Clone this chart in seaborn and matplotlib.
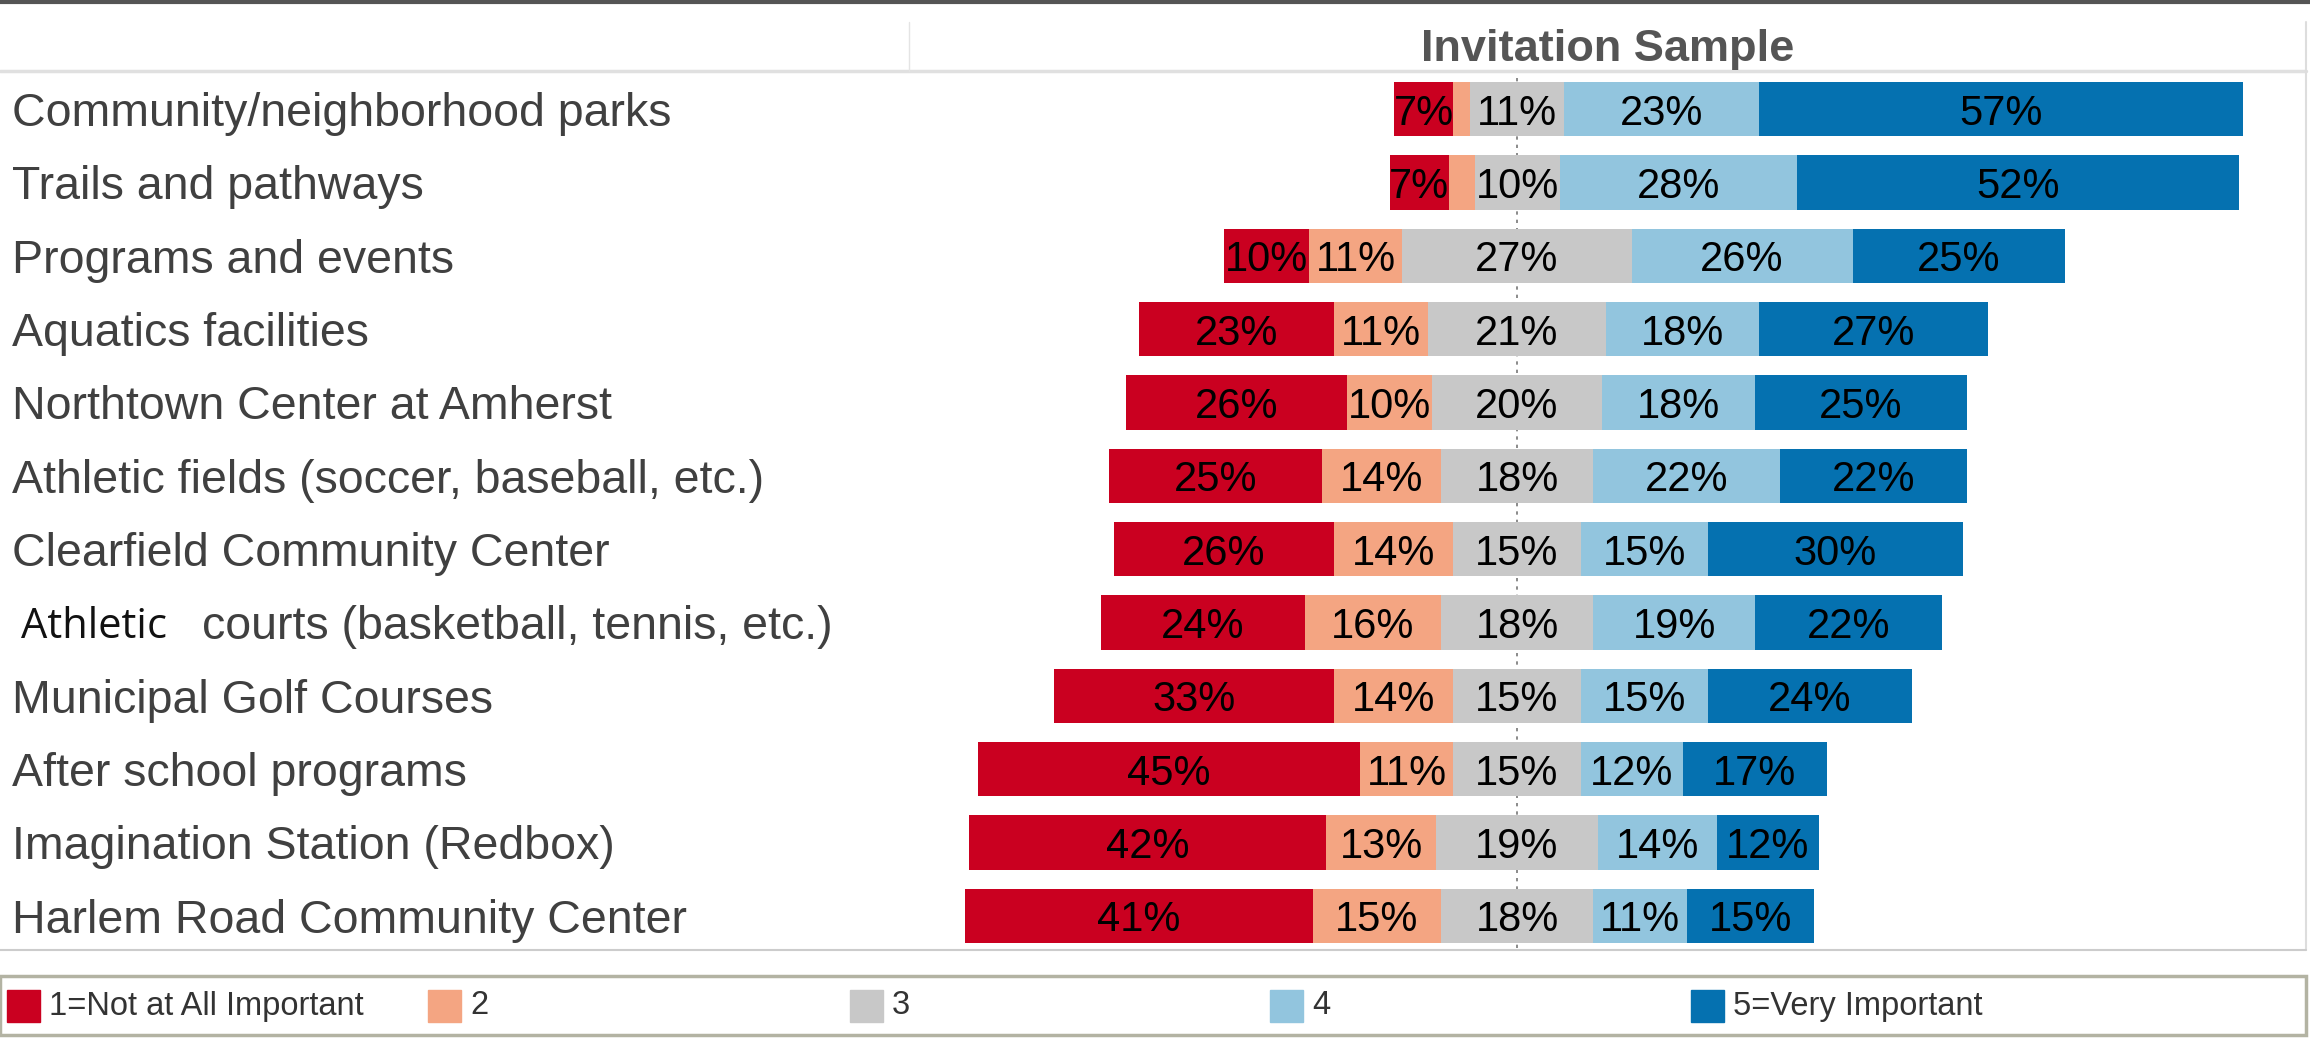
import matplotlib
matplotlib.use("Agg")
import matplotlib.pyplot as plt
import seaborn as sns
import pandas as pd
from matplotlib.lines import Line2D
from matplotlib.patches import Rectangle
from matplotlib.transforms import blended_transform_factory

# ---- data ----
categories = [
    "Community/neighborhood parks",
    "Trails and pathways",
    "Programs and events",
    "Aquatics facilities",
    "Northtown Center at Amherst",
    "Athletic fields (soccer, baseball, etc.)",
    "Clearfield Community Center",
    "Athletic courts (basketball, tennis, etc.)",
    "Municipal Golf Courses",
    "After school programs",
    "Imagination Station (Redbox)",
    "Harlem Road Community Center",
]
not_important = [7, 7, 10, 23, 26, 25, 26, 24, 33, 45, 42, 41]
rating_2 = [2, 3, 11, 11, 10, 14, 14, 16, 14, 11, 13, 15]
rating_3 = [11, 10, 27, 21, 20, 18, 15, 18, 15, 15, 19, 18]
rating_4 = [23, 28, 26, 18, 18, 22, 15, 19, 15, 12, 14, 11]
very_important = [57, 52, 25, 27, 25, 22, 30, 22, 24, 17, 12, 15]

legend_labels = ["1=Not at All Important", "2", "3", "4", "5=Very Important"]
colors = ["#ca0020", "#f4a582", "#c8c8c8", "#92c5de", "#0571b0"]

W, H = 2310, 1039
sns.set_theme(style="white")
plt.rcParams['font.family'] = ['Liberation Sans', 'DejaVu Sans']

df = pd.DataFrame({"item": categories, "p1": not_important, "p2": rating_2,
                   "p3": rating_3, "p4": rating_4, "p5": very_important})
# diverging edges, neutral category centred on zero
df["red_edge"] = -(df.p1 + df.p2 + df.p3 / 2)
df["orange_edge"] = -(df.p2 + df.p3 / 2)
df["gray_left"] = -df.p3 / 2
df["gray_right"] = df.p3 / 2
df["lb_edge"] = df.p3 / 2 + df.p4
df["db_edge"] = df.p3 / 2 + df.p4 + df.p5


def fx(px):
    return px / W


def fy(py):
    return 1 - py / H


fig = plt.figure(figsize=(W / 100, H / 100), dpi=100)
ax = fig.add_axes([fx(909), fy(948), fx(2306) - fx(909), fy(71) - fy(948)])

ax.axvline(0, color="#777777", lw=1.2, ls=(0, (2, 3)), zorder=0)

# layered bars from zero outward -> stacked diverging look
layers = [("red_edge", colors[0]), ("orange_edge", colors[1]),
          ("db_edge", colors[4]), ("lb_edge", colors[3]),
          ("gray_left", colors[2]), ("gray_right", colors[2])]
for col, c in layers:
    sns.barplot(data=df, x=col, y="item", order=categories, orient="h",
                color=c, width=0.74, saturation=1, linewidth=0, ax=ax, zorder=2)

ax.set_xlim(-71.6, 92.9)
ax.set_ylim(11.44, -0.52)
ax.set_xlabel("")
ax.set_ylabel("")
ax.set_xticks([])
ax.set_yticks([])
for s in ax.spines.values():
    s.set_visible(False)

# percent labels centred in each segment
seg_starts = [df.red_edge, df.orange_edge, df.gray_left, df.gray_right, df.lb_edge]
seg_vals = [df.p1, df.p2, df.p3, df.p4, df.p5]
for i in range(len(categories)):
    for k in range(5):
        v = seg_vals[k][i]
        if v < 5:
            continue
        x0 = seg_starts[k][i]
        ax.text(x0 + v / 2, i, f"{v}%", ha="center", va="center_baseline",
                fontsize=30, color="black", zorder=3)

# row labels on the left
tr = blended_transform_factory(fig.transFigure, ax.transData)
for i, name in enumerate(categories):
    if name.startswith("Athletic courts"):
        ax.text(fx(21), i, "Athletic", transform=tr, ha="left", va="center_baseline",
                fontsize=30, color="#111111", family=["Open Sans", "DejaVu Sans"])
        ax.text(fx(202), i, "courts (basketball, tennis, etc.)", transform=tr,
                ha="left", va="center_baseline", fontsize=33.5, color="#404040")
    else:
        ax.text(fx(12), i, name, transform=tr, ha="left", va="center_baseline",
                fontsize=33.5, color="#404040")

# header
fig.text(fx(1608), fy(49), "Invitation Sample", ha="center", va="center",
         fontsize=32.5, fontweight="bold", color="#555555")

# frame lines
fig.add_artist(Line2D([0, 1], [fy(1.5), fy(1.5)], color="#555555", lw=3))
fig.add_artist(Line2D([0, fx(2306)], [fy(71), fy(71)], color="#e0e0e0", lw=2.5))
fig.add_artist(Line2D([fx(909), fx(909)], [fy(22), fy(71)], color="#e4e4e4", lw=1))
fig.add_artist(Line2D([fx(2306), fx(2306)], [fy(22), fy(950)], color="#dddddd", lw=1.5))
fig.add_artist(Line2D([0, fx(2306)], [fy(950), fy(950)], color="#cccccc", lw=1.5))

# legend box
fig.add_artist(Rectangle((0, fy(1035)), fx(2306), fy(976) - fy(1035),
                         transform=fig.transFigure, fill=False,
                         edgecolor="#b3b3a3", lw=2.5))
leg_x = [7, 428, 850, 1270, 1691]
for x, lab, c in zip(leg_x, legend_labels, colors):
    fig.add_artist(Rectangle((fx(x), fy(1022)), fx(33), fy(990) - fy(1022),
                             transform=fig.transFigure, color=c))
    fig.text(fx(x + 42), fy(1006), lab, ha="left", va="center",
             fontsize=23.5, color="#333333")

fig.savefig("out.png", dpi=100)
